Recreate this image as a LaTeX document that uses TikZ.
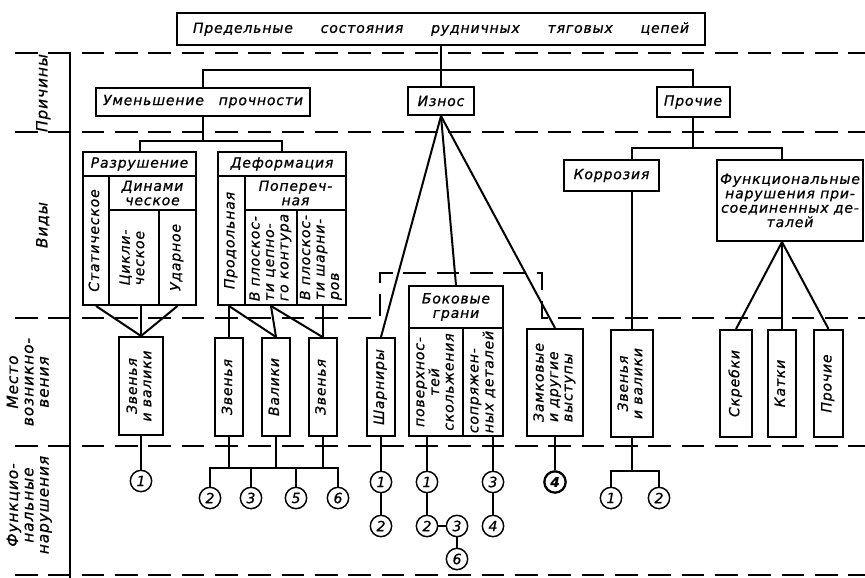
\documentclass[tikz,border=0pt]{standalone}
\usepackage{fontspec}
\setmainfont{DejaVu Sans}[LetterSpace=6, FakeBold=0.8]
\usepackage{graphicx}
\newcommand{\vtxt}[1]{\rotatebox{90}{\begin{tabular}{@{}c@{}}#1\end{tabular}}}
\newcommand{\vtxtl}[1]{\rotatebox{90}{\begin{tabular}{@{}l@{}}#1\end{tabular}}}

\begin{document}
\begin{tikzpicture}[x=0.75pt, y=-0.75pt, line width=1.5pt, font=\itshape\fontsize{10.5}{10.8}\selectfont]
\tikzset{cell/.style 2 args={draw, inner sep=0pt, align=center, minimum width=#1*0.75pt, minimum height=#2*0.75pt}}
\tikzset{num/.style={draw, circle, inner sep=0pt, minimum size=16pt, line width=1.1pt}}
\tikzset{zone/.style={dash pattern=on 17pt off 8pt}}
\tikzset{side/.style={font=\itshape\fontsize{11.5}{11.5}\selectfont}}
\useasboundingbox (0,0) rectangle (865,578);

% zones
\draw[zone] (15,53) -- (865,53);
\draw[zone] (15,132) -- (865,132);
\draw[zone] (15,318) -- (380,318) |- (542,273) -- (542,318) -- (865,318);
\draw[zone] (15,446) -- (865,446);
\draw[zone] (15,575) -- (865,575);
\draw (70,53) -- (70,578);

\node[side] (lprich) at (44,93) {\vtxt{Причины}};
\node[side] (lvid) at (44,225) {\vtxt{Виды}};
\node[side] (lmesto) at (30,382) {\vtxt{Место\\возникно-\\вения}};
\node[side] (lfunc) at (30,505) {\vtxt{Функцио-\\нальные\\нарушения}};

% top levels
\node[cell={528}{32}] (title) at (441,29) {\makebox[372pt][s]{Предельные состояния рудничных тяговых цепей}};
\node[cell={214}{28}] (ums) at (203,101.5) {\makebox[150pt][s]{Уменьшение прочности}};
\node[cell={66}{28}] (iznos) at (441,101) {Износ};
\node[cell={73}{30}] (proc) at (693,102) {Прочие};
\coordinate (jt) at (441,70);
\draw (title.south) -- (iznos.north);
\draw (ums.north) |- (jt) -| (proc.north);

% Razrushenie
\node[cell={113}{24}] (razr) at (139.5,164) {Разрушение};
\node[cell={26}{129}] (stat) at (96,240.5) {\vtxt{Статическое}};
\node[cell={87}{34}] (dyn) at (152.5,193) {Динами\\ческое};
\node[cell={50}{95}] (cycl) at (134,257.5) {\vtxtl{Цикли-\\ческое}};
\node[cell={37}{95}] (udar) at (177.5,257.5) {\vtxt{Ударное}};

% Deformaciya
\node[cell={128}{24}] (def) at (282,164) {Деформация};
\node[cell={27}{129}] (prod) at (231.5,240.5) {\vtxt{Продольная}};
\node[cell={101}{34}] (pop) at (295.5,193) {Попереч-\\ная};
\node[cell={52}{95}] (plk) at (271,257.5) {\vtxtl{В плоскос-\\ти цепно-\\го контура}};
\node[cell={49}{95}] (plsh) at (321.5,257.5) {\vtxtl{В плоскос-\\ти шарни-\\ров}};

\coordinate (ju) at (203,141);
\draw (ums.south) -- (ju);
\draw (razr.north) |- (ju) -| (def.north);

% Prochie
\node[cell={95}{31}] (kor) at (611.5,175.5) {Коррозия};
\node[cell={146}{81}] (func) at (790,200.5) {Функциональные\\нарушения при-\\соединенных де-\\талей};

% place
\node[cell={44}{98}] (zv1) at (141,386) {\vtxt{Звенья\\и валики}};
\node[cell={28}{98}] (zv2) at (229,387) {\vtxt{Звенья}};
\node[cell={28}{98}] (val) at (276,387) {\vtxt{Валики}};
\node[cell={28}{98}] (zv3) at (322.5,387) {\vtxt{Звенья}};
\node[cell={28}{98}] (shar) at (381,387) {\vtxt{Шарниры}};
\node[cell={94}{42}] (bok) at (456,307) {Боковые\\грани};
\node[cell={54}{108}] (pov) at (436,382) {\vtxt{поверхнос-\\тей\\скольжения}};
\node[cell={40}{108}] (sopr) at (483,382) {\vtxtl{сопряжен-\\ных деталей}};
\node[cell={56}{107}] (zamk) at (555,382.5) {\vtxtl{Замковые\\и другие\\выступы}};
\node[cell={42}{107}] (zv4) at (632,383.5) {\vtxt{Звенья\\и валики}};
\node[cell={32}{107}] (skr) at (736,383.5) {\vtxt{Скребки}};
\node[cell={28}{107}] (kat) at (782,383.5) {\vtxt{Катки}};
\node[cell={29}{107}] (pro) at (828.5,383.5) {\vtxt{Прочие}};

\draw (stat.south) -- (zv1.north);
\draw (zv1.north |- cycl.south) -- (zv1.north);
\draw (udar.south) -- (zv1.north);
\draw (zv2.north |- prod.south) -- (zv2.north);
\draw (zv2.north |- prod.south) -- (val.north);
\draw (plk.south) -- (val.north);
\draw (plk.south) -- (zv3.north);
\draw (zv3.north |- plsh.south) -- (zv3.north);

\draw (iznos.south) -- (shar.north);
\draw (iznos.south) -- (bok.north);
\draw (iznos.south) -- (zamk.north);

\coordinate (jp) at (693,148);
\draw (proc.south) -- (jp);
\draw (kor.north -| zv4.north) |- (jp) -| (func.north -| kat.north);
\draw (kor.south -| zv4.north) -- (zv4.north);
\draw (func.south -| kat.north) -- (skr.north);
\draw (func.south -| kat.north) -- (kat.north);
\draw (func.south -| kat.north) -- (pro.north);

% functional faults
\node[num] (c1) at (141,481) {1};
\draw (zv1.south) -- (c1.north);

\node[num] (d2) at (210,498) {2};
\node[num] (d3) at (251,498) {3};
\node[num] (d5) at (296,498) {5};
\node[num] (d6) at (338,498) {6};
\coordinate (busd) at (274,468);
\draw (d2.north) |- (busd) -| (d6.north);
\draw (d3.north) -- (d3.north |- busd);
\draw (d5.north) -- (d5.north |- busd);
\draw (zv2.south) -- (zv2.south |- busd);
\draw (val.south) -- (val.south |- busd);
\draw (zv3.south) -- (zv3.south |- busd);

\node[num] (s1) at (381,482) {1};
\node[num] (s2) at (381,526) {2};
\draw (shar.south) -- (s1.north);
\draw (s1.south) -- (s2.north);

\node[num] (p1) at (427,482) {1};
\node[num] (p2) at (427,526) {2};
\node[num] (p3) at (457,526) {3};
\node[num] (p6) at (457,559) {6};
\draw (pov.south -| p1.north) -- (p1.north);
\draw (p1.south) -- (p2.north);
\draw (p2.east) -- (p3.west);
\draw (p3.south) -- (p6.north);

\node[num] (q3) at (493,482) {3};
\node[num] (q4) at (493,526) {4};
\draw (sopr.south -| q3.north) -- (q3.north);
\draw (q3.south) -- (q4.north);

\node[num, line width=1.7pt, font=\bfseries\itshape] (z4) at (555,482) {4};
\draw (zamk.south) -- (z4.north);

\node[num] (k1) at (611,498) {1};
\node[num] (k2) at (659,498) {2};
\coordinate (busk) at (632,471);
\draw (k1.north) |- (busk) -| (k2.north);
\draw (zv4.south) -- (busk);
\end{tikzpicture}
\end{document}
